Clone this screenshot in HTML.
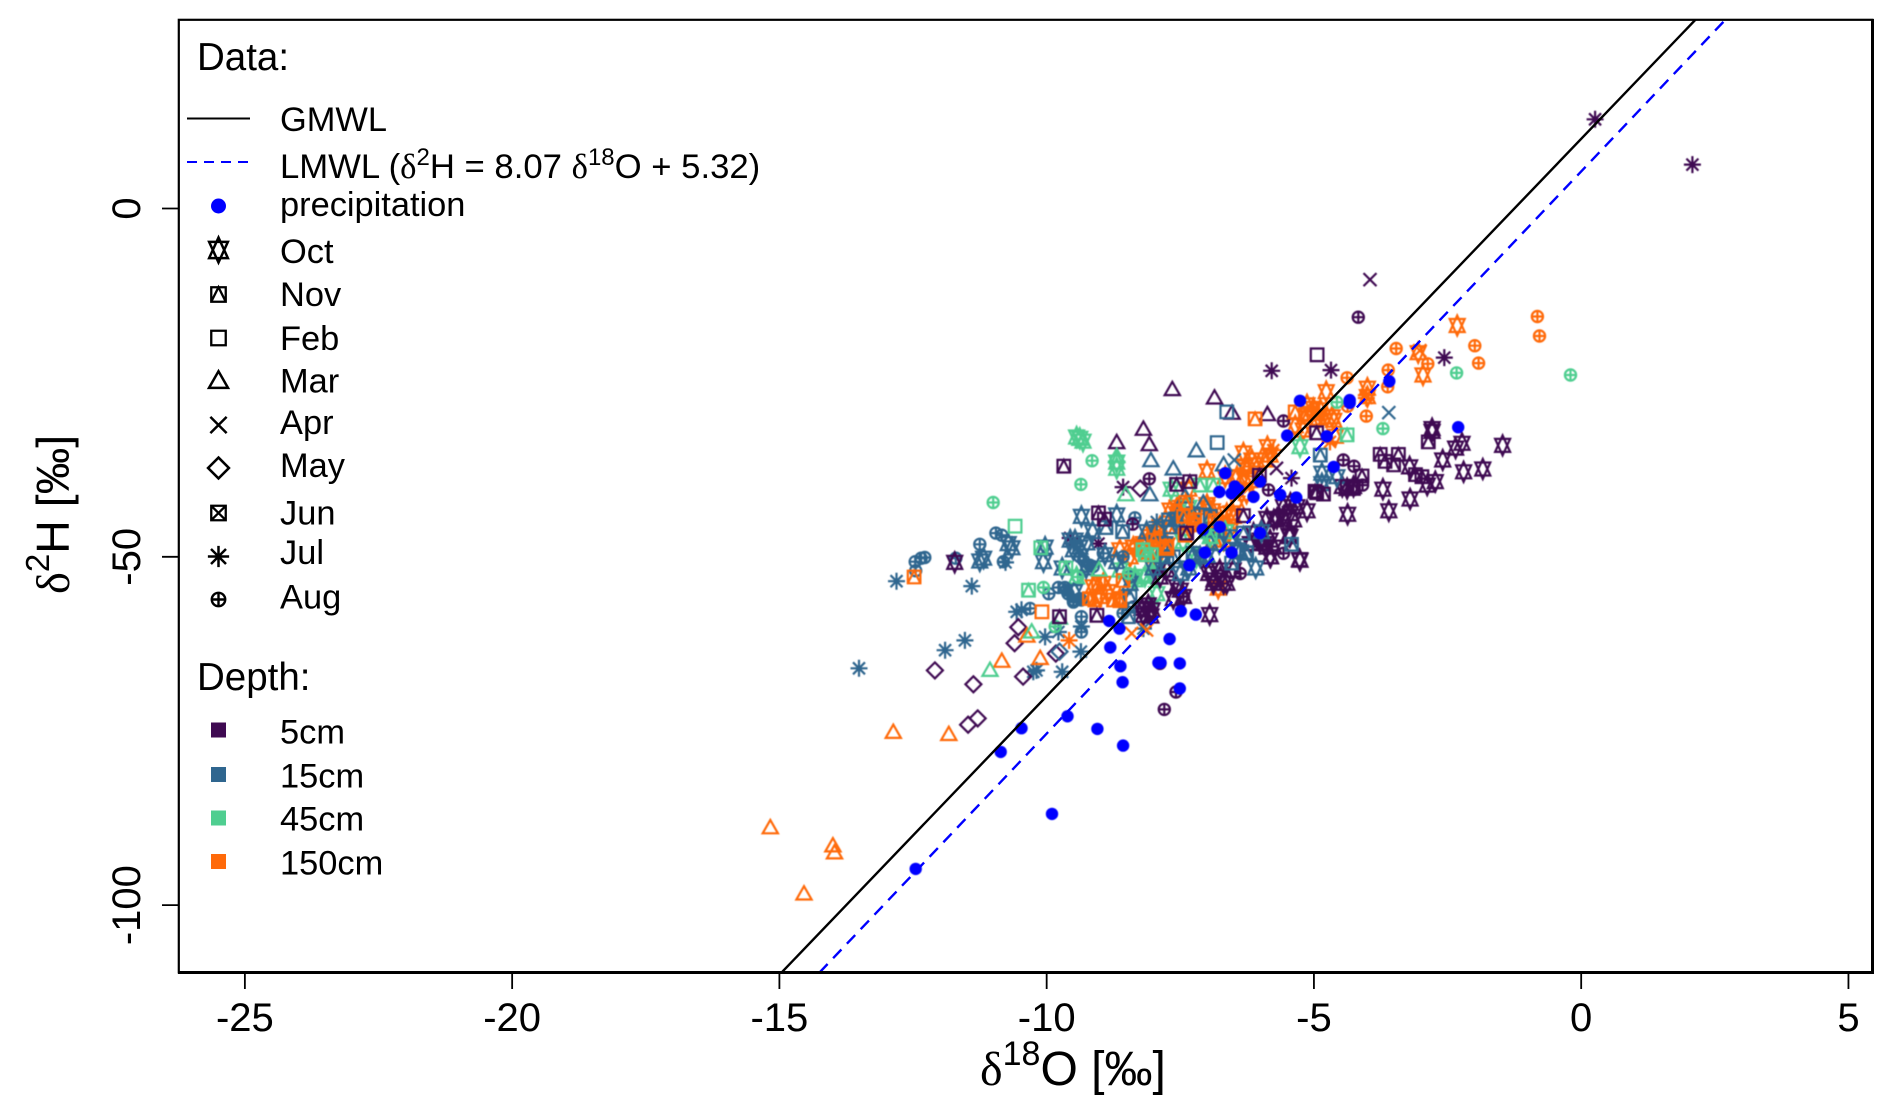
<!DOCTYPE html>
<html lang="en">
<head>
<meta charset="utf-8">
<title>Isotope dual plot</title>
<style>
html,body{margin:0;padding:0;background:#fff;overflow:hidden;}
svg{display:block;font-family:"Liberation Sans",Arial,sans-serif;}
.s{font-family:"Liberation Serif",serif;}
.leg{font-size:34.4px;fill:#000;}
.hd{font-size:38.5px;fill:#000;}
.sym{fill:none;stroke:#000;stroke-width:2;}
</style>
</head>
<body>
<svg id="chart" width="1892" height="1113" viewBox="0 0 1892 1113" xmlns="http://www.w3.org/2000/svg">
<defs><clipPath id="plotClip"><rect x="179" y="20" width="1693" height="952"/></clipPath></defs>
<g id="marks" clip-path="url(#plotClip)" style="filter:blur(.4px)"></g>
<g id="lines" clip-path="url(#plotClip)"></g>
<g id="axes"></g>
<rect x="178.8" y="19.8" width="1693.6" height="952.6" fill="none" stroke="#000" stroke-width="2.2"/>
<line x1="178" y1="972.5" x2="1873" y2="972.5" stroke="#000" stroke-width="3"/>
<line x1="1872.5" y1="19" x2="1872.5" y2="974" stroke="#000" stroke-width="3"/>

<text x="980" y="1085" font-size="48"><tspan class="s">δ</tspan><tspan font-size="34" dy="-20">18</tspan><tspan dy="20">O [‰]</tspan></text>
<text transform="translate(69,594) rotate(-90)" font-size="46.5"><tspan class="s">δ</tspan><tspan font-size="33" dy="-20">2</tspan><tspan dy="20">H [‰]</tspan></text>

<g>
<text class="hd" x="197" y="70">Data:</text>
<line x1="187" y1="118.5" x2="250" y2="118.5" stroke="#000" stroke-width="2"/>
<text class="leg" x="280" y="131">GMWL</text>
<line x1="187" y1="162" x2="250" y2="162" stroke="#00f" stroke-width="2" stroke-dasharray="10 7"/>
<text class="leg" style="font-size:34.7px" x="280" y="178">LMWL (<tspan class="s">δ</tspan><tspan font-size="24" dy="-13">2</tspan><tspan dy="13">H = 8.07 </tspan><tspan class="s">δ</tspan><tspan font-size="24" dy="-13">18</tspan><tspan dy="13">O + 5.32)</tspan></text>
<circle cx="218.5" cy="206" r="7.5" fill="#00f"/>
<text class="leg" x="280" y="216">precipitation</text>

<path class="sym" transform="translate(218.5,250) scale(1.25)" d="M-7.5,6.5L7.5,6.5L0,-10ZM-7.5,-6.5L7.5,-6.5L0,10Z"/>
<text class="leg" x="280" y="263">Oct</text>
<path class="sym" transform="translate(218.5,294.5) scale(1.15)" d="M-6.3,-6.3H6.3V6.3H-6.3ZM-6.3,6.3L0,-6.3L6.3,6.3"/>
<text class="leg" x="280" y="306">Nov</text>
<path class="sym" transform="translate(218.5,338) scale(1.15)" d="M-6.3,-6.3H6.3V6.3H-6.3Z"/>
<text class="leg" x="280" y="350">Feb</text>
<path class="sym" transform="translate(218.5,381) scale(1.25)" d="M-7.6,5.5L7.6,5.5L0,-7.8Z"/>
<text class="leg" x="280" y="392.5">Mar</text>
<path class="sym" transform="translate(218.5,425) scale(1.25)" d="M-6.5,-6.5L6.5,6.5M-6.5,6.5L6.5,-6.5"/>
<text class="leg" x="280" y="434">Apr</text>
<path class="sym" transform="translate(218.5,468) scale(1.3)" d="M0,-8L8,0L0,8L-8,0Z"/>
<text class="leg" x="280" y="477">May</text>
<path class="sym" transform="translate(218.5,513) scale(1.15)" d="M-6.3,-6.3H6.3V6.3H-6.3ZM-6.3,-6.3L6.3,6.3M-6.3,6.3L6.3,-6.3"/>
<text class="leg" x="280" y="524.5">Jun</text>
<path class="sym" transform="translate(218.5,556.5) scale(1.25)" d="M-8.5,0H8.5M0,-8.5V8.5M-6,-6L6,6M-6,6L6,-6"/>
<text class="leg" x="280" y="564">Jul</text>
<g class="sym" transform="translate(218.5,599.5) scale(1.2)"><circle r="5.6"/><path d="M-5.6,0H5.6M0,-5.6V5.6"/></g>
<text class="leg" x="280" y="608.7">Aug</text>

<text class="hd" x="197" y="690">Depth:</text>
<rect x="211" y="722.5" width="15" height="15" fill="#3f0a52"/>
<text class="leg" x="280" y="743.3">5cm</text>
<rect x="211" y="767" width="15" height="15" fill="#2f668f"/>
<text class="leg" x="280" y="787.7">15cm</text>
<rect x="211" y="810.5" width="15" height="15" fill="#4fce90"/>
<text class="leg" x="280" y="830.7">45cm</text>
<rect x="211" y="854" width="15" height="15" fill="#ff6a0a"/>
<text class="leg" x="280" y="874.3">150cm</text>
</g>
</svg>

<script>
// Axis tick values
const xTickValues = [-25, -20, -15, -10, -5, 0, 5];
const yTickValues = [0, -50, -100];

// Meteoric water lines: slope, intercept
const gmwlLine = [8, 10];
const lmwlLine = [8.07, 5.32];

// Depth colours and month symbols are styling, kept apart from the values below.
const depthColors = {"5cm":"#3f0a52","15cm":"#2f668f","45cm":"#4fce90","150cm":"#ff6a0a"};

// Values: [delta18O, delta2H]
const oct150 = [[-2.32,-16.8],[-3.05,-20.7],[-2.96,-23.9],[-4.0,-25.8],[-4.0,-27.0],[-4.77,-26.3],[-5.01,-28.7],[-4.66,-29.9],[-5.13,-28.2],[-4.88,-28.9],[-4.76,-29.9],[-4.63,-30.4],[-4.91,-30.1],[-5.07,-29.4],[-4.6,-32.7],[-5.82,-35.4],[-5.91,-36.1],[-6.16,-36.1],[-6.29,-37.1],[-6.32,-38.5],[-6.44,-38.5],[-6.26,-37.5],[-6.63,-43.8],[-6.44,-42.3],[-6.51,-44.2],[-6.26,-40.9],[-6.76,-45.2],[-6.57,-46.2],[-7.26,-44.2],[-7.57,-43.8],[-7.69,-43.3],[-7.88,-45.7],[-8.0,-46.6],[-8.19,-48.1],[-8.38,-48.6],[-7.75,-48.3],[-7.57,-45.7],[-8.94,-53.8],[-9.13,-54.3],[-9.0,-55.7],[-8.85,-55.0],[-8.63,-56.0],[-8.25,-48.5],[-8.1,-49.3],[-7.94,-50.5],[-7.88,-47.6],[-8.07,-47.1],[-7.26,-45.2],[-6.88,-47.6],[-6.69,-47.6],[-8.63,-49.0],[-8.44,-50.0],[-6.79,-54.5],[-5.35,-31.2],[-5.2,-31.8],[-7.0,-42.5],[-6.9,-43.4],[-7.4,-42.6],[-7.0,-37.7],[-6.66,-38.5],[-7.34,-40.3],[-7.56,-42.9],[-7.9,-46.4],[-6.32,-35.1],[-6.1,-36.8],[-5.87,-34.2],[-7.0,-42.9],[-6.55,-43.7]];
const oct45 = [[-9.38,-33.0],[-9.44,-32.8],[-9.32,-33.4],[-8.69,-36.4],[-8.69,-37.3],[-5.26,-34.2],[-8.16,-52.8],[-8.04,-52.6],[-7.94,-55.3],[-6.94,-47.1],[-7.45,-47.8],[-7.2,-50.1],[-8.63,-51.9],[-8.35,-52.9],[-9.44,-52.9],[-7.67,-40.3],[-7.34,-42.9],[-7.9,-51.6],[-8.35,-53.3],[-7.0,-46.4],[-6.66,-46.4]];
const oct5 = [[-2.79,-31.6],[-2.79,-32.0],[-2.23,-33.7],[-2.35,-34.4],[-1.47,-34.0],[-2.59,-36.1],[-2.2,-37.8],[-1.84,-37.4],[-3.21,-37.1],[-2.88,-39.7],[-2.73,-39.2],[-3.71,-40.3],[-3.2,-41.7],[-3.6,-43.4],[-4.37,-43.9],[-5.13,-43.4],[-5.44,-43.8],[-5.57,-44.2],[-5.69,-44.5],[-5.32,-42.8],[-5.44,-42.3],[-5.38,-44.7],[-5.57,-42.8],[-5.88,-44.5],[-4.38,-40.2],[-4.26,-39.9],[-4.47,-39.9],[-5.81,-50.0],[-5.27,-50.4],[-5.47,-46.9],[-5.75,-44.7],[-5.88,-48.6],[-5.75,-48.6],[-5.94,-48.1],[-6.19,-48.1],[-6.0,-47.6],[-6.95,-58.3],[-6.94,-51.9],[-6.75,-52.9],[-6.87,-53.3],[-6.69,-53.8],[-6.97,-52.4],[-6.76,-51.9],[-6.51,-51.9],[-6.63,-53.8],[-6.88,-53.8],[-7.5,-54.8],[-7.44,-55.7],[-7.57,-54.3],[-7.63,-56.0],[-8.03,-57.6],[-8.13,-57.6],[-8.19,-58.4],[-8.1,-56.9],[-8.22,-57.4],[-8.05,-58.5],[-5.82,-50.0],[-5.26,-50.5],[-5.45,-47.1],[-5.82,-47.6],[-6.13,-46.6],[-6.01,-48.0],[-7.75,-51.9],[-7.88,-52.9],[-11.72,-50.8]];
const oct15 = [[-11.25,-50.6],[-11.18,-50.2],[-10.72,-48.1],[-10.65,-48.7],[-10.03,-48.6],[-10.06,-50.7],[-9.35,-44.2],[-8.69,-44.0],[-8.91,-49.7],[-9.5,-49.0],[-4.85,-38.0],[-4.85,-39.5],[-4.57,-38.5],[-9.56,-47.6],[-9.47,-47.6],[-9.38,-48.6],[-9.25,-48.0],[-7.13,-50.0],[-7.5,-52.4],[-6.38,-49.3],[-8.44,-53.8],[-8.13,-46.4],[-7.79,-48.1],[-7.56,-44.6],[-7.34,-51.6],[-7.0,-49.8],[-6.77,-48.1],[-8.01,-51.6],[-6.43,-49.0],[-6.09,-51.6],[-5.98,-46.4],[-9.71,-51.6],[-9.26,-51.6],[-9.48,-55.0],[-9.14,-46.4],[-8.69,-50.7]];
const nov15 = [[-8.89,-45.8],[-8.58,-46.4],[-7.72,-44.7],[-6.26,-49.4],[-5.42,-48.2],[-6.54,-50.9],[-4.88,-35.4],[-7.26,-49.5],[-8.47,-58.6],[-6.94,-44.2],[-7.0,-46.2],[-6.57,-47.1],[-6.32,-46.6],[-7.69,-45.7],[-7.26,-43.8],[-7.82,-50.0],[-7.63,-50.0],[-7.75,-50.9],[-8.44,-55.7],[-6.26,-49.5]];
const nov150 = [[-6.1,-30.2],[-5.35,-29.2],[-5.16,-29.6],[-9.1,-56.2],[-9.2,-56.0],[-8.75,-56.2],[-8.63,-56.3],[-8.57,-53.4],[-9.03,-53.8],[-8.13,-49.7],[-7.75,-48.8],[-8.0,-47.6],[-7.41,-46.9],[-7.26,-45.4],[-7.76,-48.5],[-7.44,-44.2],[-7.23,-44.7],[-6.85,-44.8],[-7.4,-42.2],[-12.48,-52.9]];
const nov45 = [[-10.34,-54.8],[-9.64,-51.6],[-10.11,-48.7],[-4.38,-32.5],[-8.16,-49.7],[-8.04,-49.7],[-8.2,-49.0],[-7.13,-39.7],[-6.88,-39.7],[-6.94,-47.1]];
const nov5 = [[-2.86,-33.5],[-3.76,-35.3],[-3.42,-35.3],[-3.67,-36.3],[-3.51,-36.8],[-3.1,-38.2],[-2.98,-38.5],[-4.1,-38.4],[-4.38,-39.9],[-4.26,-40.2],[-4.95,-40.8],[-4.82,-41.0],[-4.95,-32.2],[-9.68,-37.0],[-7.57,-39.6],[-7.32,-39.2],[-9.03,-43.7],[-8.92,-44.6],[-7.38,-46.6],[-6.32,-44.1],[-6.02,-38.3],[-4.98,-40.6],[-9.76,-58.6],[-9.06,-58.4]];
const feb150 = [[-10.09,-57.9]];
const feb15 = [[-6.81,-33.6],[-6.63,-29.2]];
const feb45 = [[-10.59,-45.6]];
const feb5 = [[-4.94,-21.0]];
const mar150 = [[-15.17,-88.9],[-14.0,-91.5],[-13.97,-92.5],[-14.54,-98.4],[-12.87,-75.2],[-11.83,-75.5],[-10.84,-65.0],[-10.12,-64.6],[-10.37,-61.4]];
const mar45 = [[-11.06,-66.3],[-10.28,-60.8],[-9.02,-51.9],[-8.52,-41.1],[-8.69,-35.6],[-9.76,-58.8]];
const mar15 = [[-7.2,-34.8],[-8.05,-36.2],[-7.63,-37.4],[-8.07,-41.1],[-6.69,-36.8],[-7.41,-41.4],[-7.07,-42.3]];
const mar5 = [[-7.65,-26.0],[-6.86,-27.2],[-6.53,-29.4],[-8.19,-31.7],[-8.69,-33.6],[-8.08,-33.9],[-5.87,-29.6]];
const apr5 = [[-3.95,-10.2],[-5.7,-37.3]];
const apr15 = [[-6.49,-36.1],[-3.6,-29.3]];
const apr150 = [[-8.41,-61.0],[-8.13,-60.5],[-3.02,-20.4]];
const may5 = [[-12.09,-66.3],[-11.37,-68.3],[-10.53,-60.1],[-10.6,-62.4],[-10.44,-67.2],[-9.83,-63.9],[-11.29,-73.2],[-11.47,-74.1],[-8.25,-40.2]];
const may15 = [[-9.76,-63.6]];
const jul5 = [[0.26,12.8],[2.08,6.3],[-2.56,-21.4],[-4.68,-23.2],[-5.79,-23.3],[-8.57,-40.0],[-9.56,-47.3],[-9.03,-48.1],[-5.42,-38.7]];
const jul15 = [[-13.51,-66.0],[-12.81,-53.5],[-11.9,-63.4],[-11.53,-62.0],[-11.4,-54.2],[-10.77,-50.8],[-10.56,-57.9],[-10.47,-57.6],[-10.03,-61.5],[-9.78,-60.8],[-10.25,-66.5],[-10.19,-66.3],[-9.71,-66.5],[-9.36,-63.6],[-9.35,-60.0],[-9.5,-48.1],[-7.94,-45.0],[-8.19,-60.3]];
const jul150 = [[-9.58,-62.0],[-5.76,-34.7],[-4.02,-27.2],[-4.02,-26.8],[-4.7,-33.5],[-4.9,-29.4],[-6.2,-40.0]];
const aug5 = [[-4.17,-15.6],[-5.57,-30.5],[-4.45,-36.1],[-4.25,-37.0],[-4.09,-39.7],[-5.85,-40.4],[-8.08,-38.8],[-8.39,-45.3],[-7.8,-71.9],[-7.58,-69.4],[-7.88,-65.3],[-7.44,-55.7],[-6.38,-52.4],[-5.57,-49.5]];
const aug15 = [[-12.28,-50.1],[-12.35,-50.2],[-12.46,-50.7],[-12.45,-52.0],[-11.7,-50.2],[-11.25,-48.2],[-10.95,-46.6],[-10.84,-46.9],[-10.81,-50.7],[-8.35,-44.4],[-9.96,-55.3],[-9.78,-54.4],[-9.66,-54.4],[-9.6,-55.3],[-9.5,-56.5],[-9.35,-56.2],[-10.31,-57.4],[-9.35,-58.6],[-9.35,-60.8],[-8.57,-50.0],[-9.38,-50.0],[-9.25,-51.4],[-9.13,-51.4],[-8.44,-52.9],[-8.38,-57.2],[-8.57,-58.1],[-9.31,-50.5],[-9.19,-51.2],[-8.94,-49.5],[-9.63,-54.8],[-9.5,-56.2],[-9.38,-56.0]];
const aug45 = [[-11.0,-42.2],[-9.15,-36.2],[-9.36,-39.6],[-10.06,-54.4],[-9.42,-52.9],[-9.84,-60.0],[-2.33,-23.6],[-0.2,-23.9],[-4.57,-27.8],[-3.71,-31.6],[-8.47,-52.4]];
const aug150 = [[-0.82,-15.5],[-0.78,-18.3],[-3.46,-20.1],[-1.99,-19.7],[-1.92,-22.2],[-2.87,-22.3],[-3.61,-23.2],[-4.38,-24.3],[-3.62,-25.6],[-4.02,-29.8],[-4.37,-28.4],[-8.35,-48.8]];
const precipitation = [[-12.45,-94.8],[-9.9,-86.9],[-10.86,-78.0],[-10.47,-74.6],[-9.61,-72.9],[-9.05,-74.7],[-8.57,-77.1],[-8.62,-65.7],[-8.58,-68.0],[-7.91,-65.2],[-7.87,-65.2],[-7.51,-65.3],[-7.51,-68.9],[-8.83,-59.2],[-8.64,-60.3],[-8.81,-63.0],[-7.7,-61.8],[-7.49,-57.8],[-7.21,-58.3],[-7.33,-51.2],[-7.04,-49.4],[-6.54,-49.4],[-6.01,-46.6],[-7.08,-46.1],[-6.76,-45.7],[-6.66,-38.0],[-6.77,-40.7],[-6.48,-39.9],[-6.54,-40.9],[-6.41,-40.4],[-6.13,-41.4],[-6.01,-39.2],[-5.63,-41.1],[-5.33,-41.5],[-5.5,-32.6],[-5.26,-27.6],[-4.33,-27.5],[-4.33,-27.9],[-3.59,-24.8],[-4.76,-32.7],[-4.63,-37.1],[-2.3,-31.4]];

const seriesList = [
  ["oct","150cm",oct150],["oct","45cm",oct45],["aug","15cm",aug15],["jul","15cm",jul15],
  ["aug","5cm",aug5],["jul","5cm",jul5],["oct","5cm",oct5],["oct","15cm",oct15],
  ["mar","5cm",mar5],["may","5cm",may5],["may","15cm",may15],["apr","5cm",apr5],["apr","15cm",apr15],
  ["feb","5cm",feb5],["feb","15cm",feb15],["mar","15cm",mar15],["aug","150cm",aug150],["jul","150cm",jul150],["apr","150cm",apr150],
  ["nov","15cm",nov15],["nov","150cm",nov150],["aug","45cm",aug45],["feb","150cm",feb150],["feb","45cm",feb45],["mar","150cm",mar150],
  ["nov","45cm",nov45],["mar","45cm",mar45],["nov","5cm",nov5]
];

const NS = "http://www.w3.org/2000/svg";
const xDomain = [-26.24, 5.45], yDomain = [-109.7, 27.13];
const box = {l:178.6, r:1872.5, t:19.5, b:972.7};
function xScale(v){ return box.l + (v - xDomain[0]) / (xDomain[1] - xDomain[0]) * (box.r - box.l); }
function yScale(v){ return box.b - (v - yDomain[0]) / (yDomain[1] - yDomain[0]) * (box.b - box.t); }

const symbolPaths = {
  oct:"M-7.5,6.5L7.5,6.5L0,-10ZM-7.5,-6.5L7.5,-6.5L0,10Z",
  nov:"M-6.3,-6.3H6.3V6.3H-6.3ZM-6.3,6.3L0,-6.3L6.3,6.3",
  feb:"M-6.3,-6.3H6.3V6.3H-6.3Z",
  mar:"M-7.6,5.5L7.6,5.5L0,-7.8Z",
  apr:"M-6.5,-6.5L6.5,6.5M-6.5,6.5L6.5,-6.5",
  may:"M0,-8L8,0L0,8L-8,0Z",
  jun:"M-6.3,-6.3H6.3V6.3H-6.3ZM-6.3,-6.3L6.3,6.3M-6.3,6.3L6.3,-6.3",
  jul:"M-8.5,0H8.5M0,-8.5V8.5M-6,-6L6,6M-6,6L6,-6",
  aug:"M-5.6,0A5.6,5.6 0 1 1 5.6,0A5.6,5.6 0 1 1 -5.6,0M-5.6,0H5.6M0,-5.6V5.6"
};

const marksG = document.getElementById("marks");
const linesG = document.getElementById("lines");
const axesG = document.getElementById("axes");

seriesList.forEach(function(s){
  s[2].forEach(function(p){
    const m = document.createElementNS(NS,"path");
    m.setAttribute("d", symbolPaths[s[0]]);
    m.setAttribute("transform", "translate(" + xScale(p[0]).toFixed(1) + "," + yScale(p[1]).toFixed(1) + ")");
    m.setAttribute("fill","none");
    m.setAttribute("stroke", depthColors[s[1]]);
    m.setAttribute("stroke-width","2.2");
    
    
    marksG.appendChild(m);
  });
});

precipitation.forEach(function(p){
  const c = document.createElementNS(NS,"circle");
  c.setAttribute("cx", xScale(p[0]).toFixed(1));
  c.setAttribute("cy", yScale(p[1]).toFixed(1));
  c.setAttribute("r","6.2");
  c.setAttribute("fill","#0000ff");
  
  
  marksG.appendChild(c);
});

function drawLine(coef, color, dash, name){
  const l = document.createElementNS(NS,"line");
  l.setAttribute("x1", xScale((yDomain[0] - coef[1]) / coef[0]));
  l.setAttribute("y1", yScale(yDomain[0]));
  l.setAttribute("x2", xScale((yDomain[1] - coef[1]) / coef[0]));
  l.setAttribute("y2", yScale(yDomain[1]));
  l.setAttribute("stroke", color);
  l.setAttribute("stroke-width","2.4");
  if (dash) l.setAttribute("stroke-dasharray", dash);
  
  
  linesG.appendChild(l);
}
drawLine(lmwlLine, "#0000ff", "12 8", "lmwl-line");
drawLine(gmwlLine, "#000000", null, "gmwl-line");

xTickValues.forEach(function(v){
  const t = document.createElementNS(NS,"line");
  t.setAttribute("x1", xScale(v)); t.setAttribute("x2", xScale(v));
  t.setAttribute("y1", box.b); t.setAttribute("y2", 989);
  t.setAttribute("stroke","#000"); t.setAttribute("stroke-width","1.8");
  
  
  axesG.appendChild(t);
  const l = document.createElementNS(NS,"text");
  l.setAttribute("x", xScale(v)); l.setAttribute("y", 1031);
  l.setAttribute("font-size","40"); l.setAttribute("text-anchor","middle");
  l.textContent = v;
  
  
  axesG.appendChild(l);
});
yTickValues.forEach(function(v){
  const t = document.createElementNS(NS,"line");
  t.setAttribute("x1", 162); t.setAttribute("x2", box.l);
  t.setAttribute("y1", yScale(v)); t.setAttribute("y2", yScale(v));
  t.setAttribute("stroke","#000"); t.setAttribute("stroke-width","1.8");
  
  
  axesG.appendChild(t);
  const l = document.createElementNS(NS,"text");
  l.setAttribute("transform", "translate(140," + yScale(v) + ") rotate(-90)");
  l.setAttribute("font-size","40"); l.setAttribute("text-anchor","middle");
  l.textContent = v;
  
  
  axesG.appendChild(l);
});
</script>
</body>
</html>
